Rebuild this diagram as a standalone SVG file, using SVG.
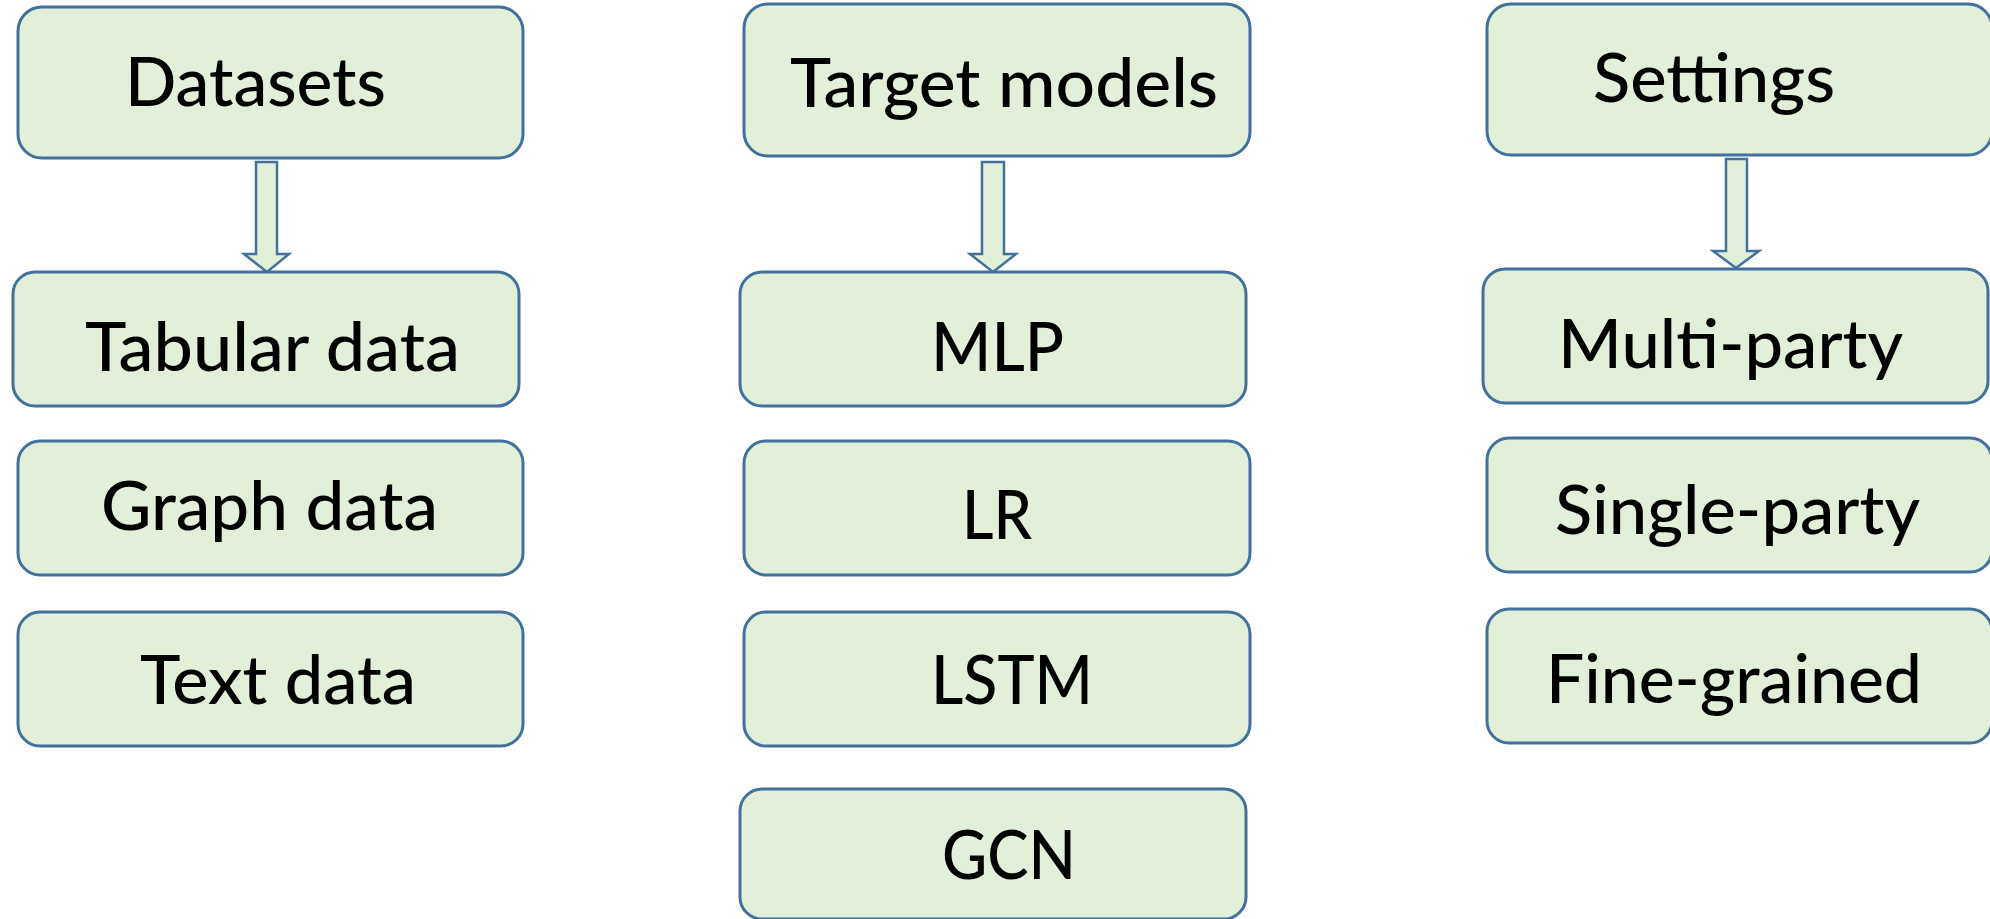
<svg xmlns="http://www.w3.org/2000/svg" width="1990" height="919" viewBox="0 0 1990 919">
  <style>
    .box { fill: #e2efd9; stroke: #41719c; stroke-width: 3; }
    .lbl { font-family: Lato, "Open Sans", "Liberation Sans", sans-serif; font-size: 68px; font-weight: 500; fill: #000; }
    .arrow { fill: #e2efd9; stroke: #41719c; stroke-width: 2.5; stroke-linejoin: miter; }
  </style>

  <!-- block arrows from each header to its first item -->
  <g id="connectors">
    <polygon class="arrow" points="256,162 277,162 277,254 289,254 267,272 244,254 256,254"/>
    <polygon class="arrow" points="982,162 1004,162 1004,254 1016,254 993,272 970,254 982,254"/>
    <polygon class="arrow" points="1726,159 1747,159 1747,251 1759,251 1736,268 1713,251 1726,251"/>
  </g>

  <!-- column 1: datasets -->
  <g id="datasets">
    <rect class="box" x="18" y="7" width="505" height="151" rx="24"/>
    <text class="lbl" x="125" y="106" textLength="261" lengthAdjust="spacingAndGlyphs">Datasets</text>
  </g>
  <g id="tabular-data">
    <rect class="box" x="13" y="272" width="506" height="134" rx="22"/>
    <text class="lbl" x="85" y="371" textLength="375" lengthAdjust="spacingAndGlyphs">Tabular data</text>
  </g>
  <g id="graph-data">
    <rect class="box" x="18" y="441" width="505" height="134" rx="22"/>
    <text class="lbl" x="101" y="530" textLength="337" lengthAdjust="spacingAndGlyphs">Graph data</text>
  </g>
  <g id="text-data">
    <rect class="box" x="18" y="612" width="505" height="134" rx="22"/>
    <text class="lbl" x="140" y="704" textLength="276" lengthAdjust="spacingAndGlyphs">Text data</text>
  </g>

  <!-- column 2: target models -->
  <g id="target-models">
    <rect class="box" x="744" y="4" width="506" height="152" rx="24"/>
    <text class="lbl" x="790" y="107" textLength="428" lengthAdjust="spacingAndGlyphs">Target models</text>
  </g>
  <g id="mlp">
    <rect class="box" x="740" y="272" width="506" height="134" rx="22"/>
    <text class="lbl" x="931" y="371" textLength="133" lengthAdjust="spacingAndGlyphs">MLP</text>
  </g>
  <g id="lr">
    <rect class="box" x="744" y="441" width="506" height="134" rx="22"/>
    <text class="lbl" x="962" y="539" textLength="70" lengthAdjust="spacingAndGlyphs">LR</text>
  </g>
  <g id="lstm">
    <rect class="box" x="744" y="612" width="506" height="134" rx="22"/>
    <text class="lbl" x="931" y="704" textLength="162" lengthAdjust="spacingAndGlyphs">LSTM</text>
  </g>
  <g id="gcn">
    <rect class="box" x="740" y="789" width="506" height="130" rx="22"/>
    <text class="lbl" x="942" y="879" textLength="134" lengthAdjust="spacingAndGlyphs">GCN</text>
  </g>

  <!-- column 3: settings -->
  <g id="settings">
    <rect class="box" x="1487" y="4" width="505" height="151" rx="24"/>
    <text class="lbl" x="1593" y="102" textLength="242" lengthAdjust="spacingAndGlyphs">Settings</text>
  </g>
  <g id="multi-party">
    <rect class="box" x="1483" y="269" width="505" height="134" rx="22"/>
    <text class="lbl" x="1558" y="368" textLength="345" lengthAdjust="spacingAndGlyphs">Multi-party</text>
  </g>
  <g id="single-party">
    <rect class="box" x="1487" y="438" width="505" height="134" rx="22"/>
    <text class="lbl" x="1555" y="534" textLength="365" lengthAdjust="spacingAndGlyphs">Single-party</text>
  </g>
  <g id="fine-grained">
    <rect class="box" x="1487" y="609" width="505" height="134" rx="22"/>
    <text class="lbl" x="1546" y="703" textLength="376" lengthAdjust="spacingAndGlyphs">Fine-grained</text>
  </g>
</svg>
